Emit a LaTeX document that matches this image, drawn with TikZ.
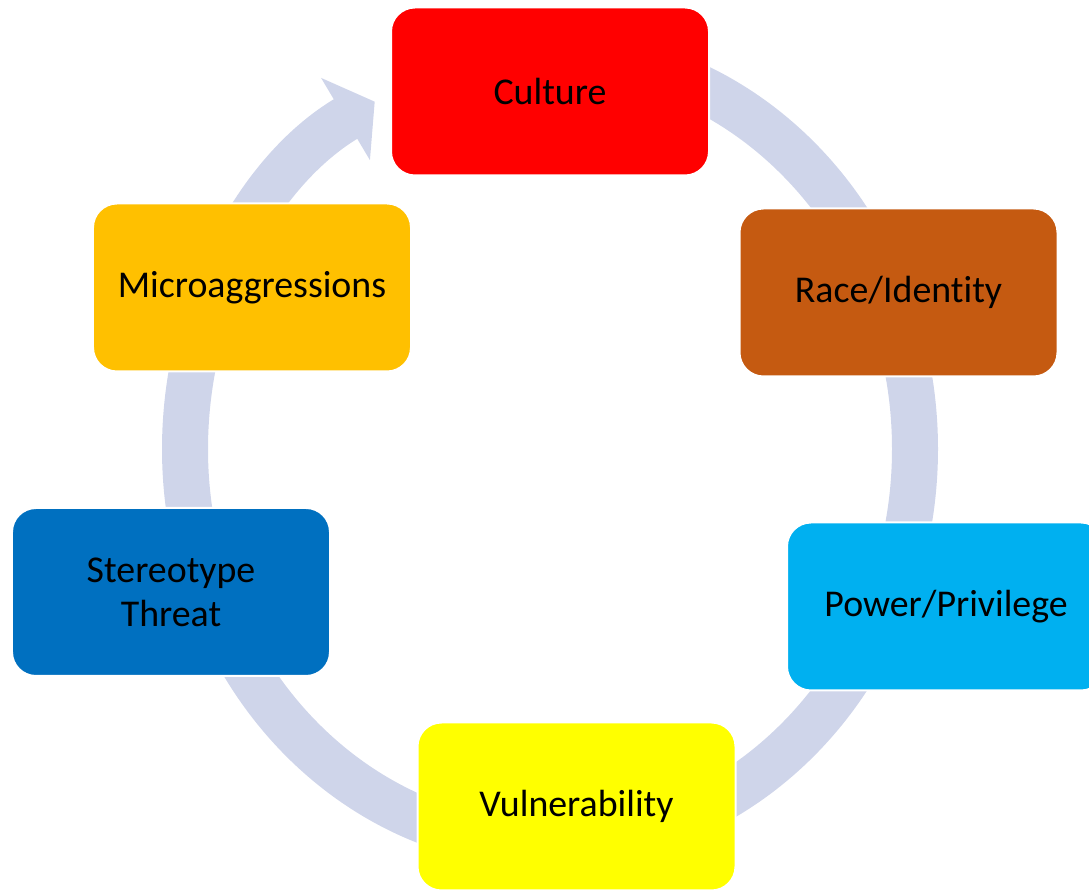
\documentclass[tikz,border=0pt]{standalone}
\usepackage{fontspec}
\setmainfont{Carlito}[Ligatures=NoCommon]
\usetikzlibrary{arrows.meta}
\definecolor{ringblue}{HTML}{CFD5EA}
\definecolor{culturered}{HTML}{FF0000}
\definecolor{racebrown}{HTML}{C55A11}
\definecolor{powerblue}{HTML}{00B0F0}
\definecolor{vulnyellow}{HTML}{FFFF00}
\definecolor{threatblue}{HTML}{0070C0}
\definecolor{microorange}{HTML}{FFC000}

\begin{document}
\begin{tikzpicture}[x=1bp,y=1bp,
    stage/.style={rectangle, rounded corners=24bp, draw=white, line width=2bp,
        minimum width=318bp, minimum height=168bp, align=center, text=black,
        font=\fontsize{38}{44}\selectfont},
    ringarrow/.style={draw=ringblue, line width=46bp,
        -{Triangle[width=94bp,length=34bp]}}]
    \useasboundingbox (0,0) rectangle (1089,893);

    % the cycle ring, under the boxes
    \coordinate (hub) at (550,444);
    \draw[ringarrow] (hub) ++(90:396) arc[start angle=90, end angle=-241.3, x radius=365, y radius=396];

    \node[stage, fill=culturered] (culture) at (550,801.5) {Culture};
    \node[stage, fill=racebrown] (race) at (898.5,600.5) {Race/Identity};
    \node[stage, fill=powerblue] (power) at (946,286.5) {Power/Privilege};
    \node[stage, fill=vulnyellow] (vuln) at (576.5,86.5) {Vulnerability};
    \node[stage, fill=threatblue] (threat) at (171,301) {Stereotype\\Threat};
    \node[stage, fill=microorange] (micro) at (252,605.5) {Microaggressions};
\end{tikzpicture}
\end{document}
